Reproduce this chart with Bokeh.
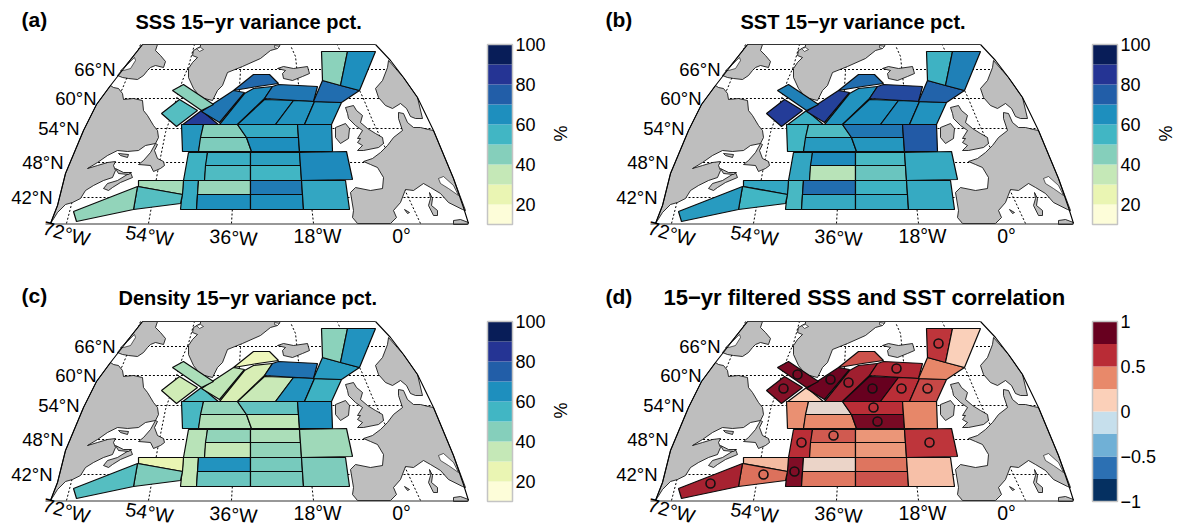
from bokeh.plotting import figure
from bokeh.core.properties import value
from bokeh.embed import file_html
from bokeh.resources import INLINE
import numpy as np

# ---------------- values (one per basin box, same order as BOXES) ----------------
SSS_PCT = [52, 83, 70, 66, 73, 65, 70, 64, 64, 72, 44, 65, 63, 45, 46, 58, 65, 64,
           56, 57, 53, 61, 55, 66, 58, 42, 65, 69, 65, 59, 40, 52, 43, 44]
SST_PCT = [83, 57, 82, 64, 72, 65, 80, 66, 64, 74, 56, 68, 55, 53, 62, 70, 63, 76,
           59, 66, 37, 54, 49, 58, 54, 72, 58, 56, 58, 58, 59, 55, 62, 68]
RHO_PCT = [32, 52, 36, 30, 23, 34, 71, 64, 56, 62, 44, 64, 54, 43, 38, 50, 36, 65,
           37, 43, 35, 39, 43, 41, 35, 64, 49, 47, 47, 46, 25, 46, 52, 39]
CORR    = [.78, .13, .85, .70, .52, .90, .65, .62, .55, .38, .60, .12, .35, .02, .37, .62, .82, .38,
           .62, .50, .36, .33, .32, .60, .80, .05, .42, .43, .52, .18, .20, .44, .68, .82]

VAR_LEVELS = [10, 20, 30, 40, 50, 60, 70, 80, 90, 100]
VAR_COLORS = ["#FDFDD9", "#EAF5B3", "#C5E8B7", "#85CFBB", "#41B6C4", "#1E8FBE", "#225EA8", "#253494", "#081D58"]
VAR_TICKS = [20, 40, 60, 80, 100]
COR_LEVELS = [-1, -.75, -.5, -.25, 0, .25, .5, .75, 1]
COR_COLORS = ["#053061", "#2C70B3", "#70B0D6", "#C6DFEC", "#FBD0B9", "#E8896A", "#B92C36", "#67001F"]
COR_TICKS = [-1, -.5, 0, .5, 1]
COR_TICK_TEXT = ["\u22121", "\u22120.5", "0", "0.5", "1"]

TITLES = ["SSS 15\u2212yr variance pct.", "SST 15\u2212yr variance pct.",
          "Density 15\u2212yr variance pct.", "15\u2212yr filtered SSS and SST correlation"]
LETTERS = ["(a)", "(b)", "(c)", "(d)"]
LAT_LABELS = ["66\u00b0N", "60\u00b0N", "54\u00b0N", "48\u00b0N", "42\u00b0N"]
LON_LABELS = ["72\u00b0W", "54\u00b0W", "36\u00b0W", "18\u00b0W", "0\u00b0"]

# ---------------- map geometry, in map units of panel (a) ----------------
BOXES = [
 [(161,113),(179,99),(197,110),(176,126)],
 [(181,125),(201,110),(219,125)],
 [(201,111),(233,90),(244,92),(219,122)],
 [(219,124),(244,93),(253,88),(272,86),(264,98),(237,124)],
 [(233,90),(253,74),(269,74),(278,83),(257,86),(245,88)],
 [(237,124),(264,99),(293,100),(275,124)],
 [(264,98),(272,86),(278,84),(317,86),(313,101)],
 [(275,124),(293,100),(314,101),(304,124)],
 [(304,124),(314,101),(341,102),(331,124)],
 [(313,101),(322,80),(359,90),(341,102)],
 [(321,51),(347,51),(340,85),(322,80)],
 [(347,51),(375,51),(359,90),(340,85)],
 [(181,124),(203,124),(198,151),(182,151)],
 [(203,124),(237,124),(246,137),(200,137)],
 [(200,137),(246,137),(251,151),(198,151)],
 [(237,124),(297,124),(298,137),(246,137)],
 [(246,137),(298,137),(299,151),(251,151)],
 [(297,124),(331,124),(332,151),(299,151)],
 [(188,152),(207,152),(204,180),(183,180)],
 [(207,152),(250,152),(250,165),(205,165)],
 [(205,165),(250,165),(250,180),(204,180)],
 [(250,152),(299,152),(300,165),(250,165)],
 [(250,165),(300,165),(301,180),(250,180)],
 [(299,152),(346,151),(352,179),(301,180)],
 [(183,180),(198,180),(196,209),(180,209)],
 [(198,180),(250,180),(250,194),(197,194)],
 [(197,194),(250,194),(250,209),(196,209)],
 [(250,180),(301,180),(302,194),(250,194)],
 [(250,194),(302,194),(303,209),(250,209)],
 [(301,180),(345,180),(349,209),(303,209)],
 [(138,180),(183,180),(182,194),(138,186)],
 [(137,186),(182,194),(180,203),(133,209)],
 [(137,186),(133,209),(76,221),(73,211)],
 [(172,90),(183,84),(213,104),(201,110)],
]
# where the significance ring of each box sits (None when not marked)
RINGS = [(178,111),None,(225,102),(243,105),None,(267,111),(291,91),(296,111),(322,111),None,(333,66),None,
         None,None,None,(268,130),(272,144),None,(196,165),(228,158),None,None,None,(324,165),(189,194),None,None,None,None,None,None,(158,197),(105,206),(192,97)]

LAND = [
 # Baffin
 [(142,44),(157,44),(155,50),(160,55),(165,61),(163,67),(155,65),(150,67),(147,70),(143,75),(137,79),(128,78),(122,77),(117,75)],
 # Labrador / Quebec / Maritimes
 [(110,85),(113,87),(118,88),(122,93),(123,99),(133,98),(142,100),(143,110),(147,115),(153,125),(157,130),(158,137),(155,143),(145,145),(138,150),
  (127,151),(117,150),(107,155),(97,162),(87,168),(97,165),(107,162),(115,161),(113,165),(115,170),(112,177),(103,180),(93,185),(85,190),(80,198),
  (72,202),(65,204),(57,212),(52,220),(50,223),(57,205),(65,173),(83,130),(96,104)],
 # Newfoundland
 [(155,143),(150,152),(143,160),(138,164),(150,165),(153,171),(160,168),(164,165),(163,161),(157,158),(154,150),(157,144)],
 # Nova Scotia, Cape Breton, Anticosti
 [(103,188),(107,183),(117,180),(130,172),(132,177),(120,182),(112,187),(108,190)],
 [(115,168),(123,172),(131,172),(128,174),(118,173)],
 [(118,153),(128,154),(127,157),(120,155)],
 # Greenland
 [(200,44),(280,44),(277,48),(270,50),(260,58),(242,66),(227,72),(222,85),(217,90),(212,100),(200,97),(193,88),(188,77),(188,68),(192,62),(197,57),(192,55),(193,50),(200,46)],
 # Iceland
 [(277,68),(283,66),(293,68),(307,66),(309,73),(302,76),(292,80),(283,78),(282,73),(285,70)],
 # Scandinavia
 [(388,60),(387,67),(382,80),(375,88),(378,97),(385,105),(392,108),(400,103),(406,108),(410,116),(415,118),(422,118),(417,97),(403,77)],
 # Mainland Europe
 [(433,130),(428,129),(420,127),(413,127),(407,122),(403,113),(398,112),(398,118),(402,130),(393,137),(387,145),(380,152),(372,158),(363,161),(370,164),(377,167),
  (383,177),(382,188),(370,190),(355,187),(350,192),(353,210),(352,217),(357,223),(390,223),(396,217),(393,210),(400,202),(405,189),(413,190),(423,183),(430,187),(440,193),(448,202),(462,209),(465,210),(453,178)],
 # Great Britain, Ireland
 [(345,107),(353,105),(356,110),(362,115),(360,122),(367,128),(375,133),(382,137),(383,143),(378,147),(363,150),(357,150),(362,145),(357,142),(360,138),(357,138),(362,130),(355,125),(348,118),(347,113)],
 [(335,127),(345,123),(349,128),(348,138),(340,143),(335,137)],
 # Mediterranean islands, N. Africa
 [(429,192),(432,198),(431,205),(437,210),(437,215),(433,215),(428,205),(430,198)],
 [(404,209),(409,212),(407,213)],
 [(453,220),(460,219),(468,222),(467,224),(453,224)],
]
WATER = [
 [(120,70),(127,64),(134,57),(135,60),(130,68),(123,70)],   # Foxe Basin
 [(438,178),(443,176),(453,185),(458,195),(448,188),(440,183)],  # Adriatic
 [(196,48),(200,47),(203,49),(199,51)],
 [(274,45),(279,46),(277,48),(274,47)],
]
FRAME_L = [(50,223),(57,205),(65,173),(83,130),(96,104),(110,85),(142,44)]
FRAME_R = [(375,44),(390,60),(403,77),(417,97),(433,130),(453,178),(463,207),(468,223)]
MERIDIANS = [[(66,223),(72,200),(100,135),(122,88),(140,44)],
             [(148,223),(157,172),(165,132),(182,80),(188,66),(194,44)],
             [(231,223),(240,70),(243,44)],
             [(313,223),(295,56),(290,45)],
             [(420,223),(372,120),(362,96),(337,45)]]
PARALLELS_Y = [69, 98, 128, 162, 197]
LAT_LABEL_RIGHT = [115, 96, 79, 63, 52]
LON_LABEL_POS = [(66,233,-15),(149,235,-9),(233,237,-4),(317,235,0),(401,235,0)]

PANELS = [(0,0,SSS_PCT),(605,0,SST_PCT),(0,277,RHO_PCT),(605,277,CORR)]
TITLE_X = [135, 740, 118, 663]
TITLE_Y = [21, 21, 297, 297]
TITLE_SIZE = ["20px", "20px", "20px", "22px"]
LETTER_X = [21, 605, 21, 605]
LETTER_Y = [19, 19, 295, 296]
GRAY = "#BEBEBE"
FONT = value("Liberation Sans")


def mix(vals, levels, colors):
    """Continuous colour of a value through the colour-bar's cell centres."""
    cs = np.array([[int(c[i:i+2], 16) for i in (1, 3, 5)] for c in colors], float)
    centres = (np.array(levels[:-1]) + np.array(levels[1:])) / 2
    out = []
    for v in vals:
        rgb = [np.interp(v, centres, cs[:, k]) for k in range(3)]
        out.append("#%02x%02x%02x" % tuple(int(round(c)) for c in rgb))
    return out


p = figure(width=1177, height=527, x_range=(0, 1177), y_range=(527, 0),
           output_backend="svg", toolbar_location=None, min_border=0,
           outline_line_color=None)
p.axis.visible = False
p.grid.visible = False
p.background_fill_color = "white"


def patch_set(polys, dx, dy, **kw):
    return p.patches([[q[0] + dx for q in poly] for poly in polys],
                     [[q[1] + dy for q in poly] for poly in polys], **kw)


for i, (dx, dy, vals) in enumerate(PANELS):
    # graticule
    fl = np.array(FRAME_L, float)
    fr = np.array(FRAME_R, float)
    for y in PARALLELS_Y:
        x0 = np.interp(y, fl[::-1, 1], fl[::-1, 0])
        x1 = np.interp(y, fr[:, 1], fr[:, 0])
        p.line([x0 + dx, x1 + dx], [y + dy, y + dy], line_color="black", line_width=1, line_dash="2 2")
    for m in MERIDIANS:
        p.line([q[0] + dx for q in m], [q[1] + dy for q in m], line_color="black", line_width=1, line_dash="2 2")
    # land
    patch_set(LAND, dx, dy, fill_color=GRAY, line_color="black", line_width=0.8)
    patch_set(WATER, dx, dy, fill_color="white", line_color="black", line_width=0.6)
    # map frame
    p.line([q[0] + dx for q in FRAME_L], [q[1] + dy for q in FRAME_L], line_color="black", line_width=1.1)
    p.line([q[0] + dx for q in FRAME_R], [q[1] + dy for q in FRAME_R], line_color="black", line_width=1.1)
    p.line([142 + dx, 375 + dx], [44 + dy, 44 + dy], line_color="#333333", line_width=1.2)
    p.line([45 + dx, 468 + dx], [223.5 + dy, 223.5 + dy], line_color="#333333", line_width=1.2)
    # boxes
    if i < 3:
        fills = mix(vals, VAR_LEVELS, VAR_COLORS)
    else:
        fills = mix(vals, COR_LEVELS, COR_COLORS)
    patch_set(BOXES, dx, dy, fill_color=fills, line_color="#0b0b0b", line_width=1.2)
    if i == 3:
        marked = [r for r in RINGS if r is not None]
        p.scatter([q[0] + dx for q in marked], [q[1] + dy for q in marked], marker="circle", size=9,
                  fill_color=None, line_color="#111111", line_width=1.6)
    # tick labels
    p.text([r + dx for r in LAT_LABEL_RIGHT], [y + dy for y in PARALLELS_Y], text=LAT_LABELS,
           text_font=FONT, text_font_size="18.5px", text_align="right", text_baseline="middle", text_color="black")
    for lab, (x, y, a) in zip(LON_LABELS, LON_LABEL_POS):
        p.text([x + dx], [y + dy], text=[lab], angle=[np.radians(a)], text_font=FONT, text_font_size="19.5px",
               text_align="center", text_baseline="middle", text_color="black")
    # titles
    p.text([TITLE_X[i]], [TITLE_Y[i]], text=[TITLES[i]], text_font=FONT, text_font_size=TITLE_SIZE[i],
           text_font_style="bold", text_align="left", text_baseline="middle", text_color="black")
    p.text([LETTER_X[i]], [LETTER_Y[i]], text=[LETTERS[i]], text_font=FONT, text_font_size="21px",
           text_font_style="bold", text_align="left", text_baseline="middle", text_color="black")
    # colour bar
    x0, x1 = 487 + dx, 512 + dx
    if i < 3:
        lv = np.array(VAR_LEVELS, float)
        to_y = lambda v: 44 + dy + (100 - np.asarray(v, float)) * 2.0
        cols, ticks, tick_text = VAR_COLORS, VAR_TICKS, [str(t) for t in VAR_TICKS]
    else:
        lv = np.array(COR_LEVELS, float)
        to_y = lambda v: 44 + dy + (1 - np.asarray(v, float)) * 90.0
        cols, ticks, tick_text = COR_COLORS, COR_TICKS, COR_TICK_TEXT
    ys = to_y(lv)
    p.quad(left=[x0] * len(cols), right=[x1] * len(cols), top=ys[1:], bottom=ys[:-1], fill_color=cols, line_color=None)
    p.quad(left=[x0], right=[x1], top=[ys[-1]], bottom=[ys[0]], fill_color=None, line_color="#C4C4C4", line_width=1.5)
    p.text([x1 + 3] * len(ticks), to_y(ticks).tolist(), text=tick_text, text_font=FONT, text_font_size="18px",
           text_align="left", text_baseline="middle", text_color="black")
    if i < 3:
        p.text([560 + dx], [133 + dy], text=["%"], angle=[np.pi / 2], text_font=FONT, text_font_size="18px",
               text_align="center", text_baseline="middle", text_color="black")

open("out.html", "w").write(file_html(p, INLINE))
